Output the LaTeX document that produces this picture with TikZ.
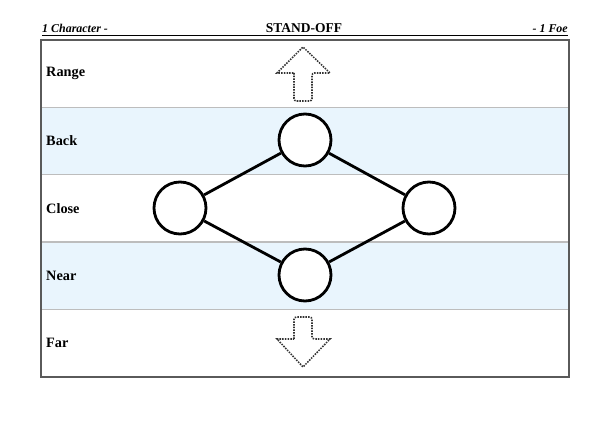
\documentclass[tikz,border=0pt]{standalone}
\usepackage{fontspec}
\setmainfont{Liberation Serif}
\usetikzlibrary{calc}

\definecolor{rowblue}{HTML}{E9F5FD}
\definecolor{framegray}{HTML}{5A5A5A}
\definecolor{rulegray}{HTML}{BDBDBD}

\begin{document}
\begin{tikzpicture}[x=0.03cm,y=-0.03cm,
    spot/.style={circle,draw=black,fill=white,line width=2.4pt,
      minimum size=1.56cm,inner sep=0pt},
    link/.style={black,line width=2.4pt},
    rowlabel/.style={anchor=west,font=\bfseries\fontsize{12.2}{14}\selectfont,inner sep=0pt},
    headtext/.style={font=\bfseries\fontsize{10.2}{12}\selectfont,inner sep=0pt},
    ghost/.style={draw=black!80,densely dotted,line width=1.3pt,fill=white}]
  \useasboundingbox (0,0) rectangle (609,430);
  % bands
  \foreach \i/\name in {0/Range,1/Back,2/Close,3/Near,4/Far} {
    \pgfmathsetmacro{\top}{40+67.4*\i}
    \ifodd\i
      \fill[rowblue] (41,\top) rectangle (569,\top+67.4);
    \fi
    \node[rowlabel] (lbl\i) at (46,\top+33.7) {\name};
  }
  \foreach \i in {1,...,4}
    \draw[rulegray,line width=1.2pt] (42,40+67.4*\i) -- (568,40+67.4*\i);
  \draw[framegray,line width=2.3pt] (41,40) rectangle (569,377);
  % header
  \draw[black,line width=0.7pt] (42,35.5) -- (568,35.5);
  \node[headtext,anchor=base west] (who) at (42,33) {\itshape 1 Character -};
  \node[headtext,anchor=base,font=\bfseries\fontsize{11.5}{13}\selectfont] (title) at (304,33) {STAND-OFF};
  \node[headtext,anchor=base east] (foe) at (568,33) {\itshape - 1 Foe};
  % range arrows
  \draw[ghost,rounded corners=2pt] (294,73) -- (294,101) -- (312,101)
    -- (312,73) [sharp corners] -- (330,73) -- (303,47) -- (277,73) -- cycle;
  \draw[ghost,rounded corners=2pt] (294,339) -- (294,317) -- (312,317)
    -- (312,339) [sharp corners] -- (330,339) -- (303,367) -- (277,339) -- cycle;
  % positions
  \node[spot] (back) at (305,140) {};
  \node[spot] (left) at (180,208) {};
  \node[spot] (right) at (429,208) {};
  \node[spot] (near) at (305,275) {};
  \draw[link] (left) -- (back);
  \draw[link] (back) -- (right);
  \draw[link] (left) -- (near);
  \draw[link] (near) -- (right);
\end{tikzpicture}
\end{document}
